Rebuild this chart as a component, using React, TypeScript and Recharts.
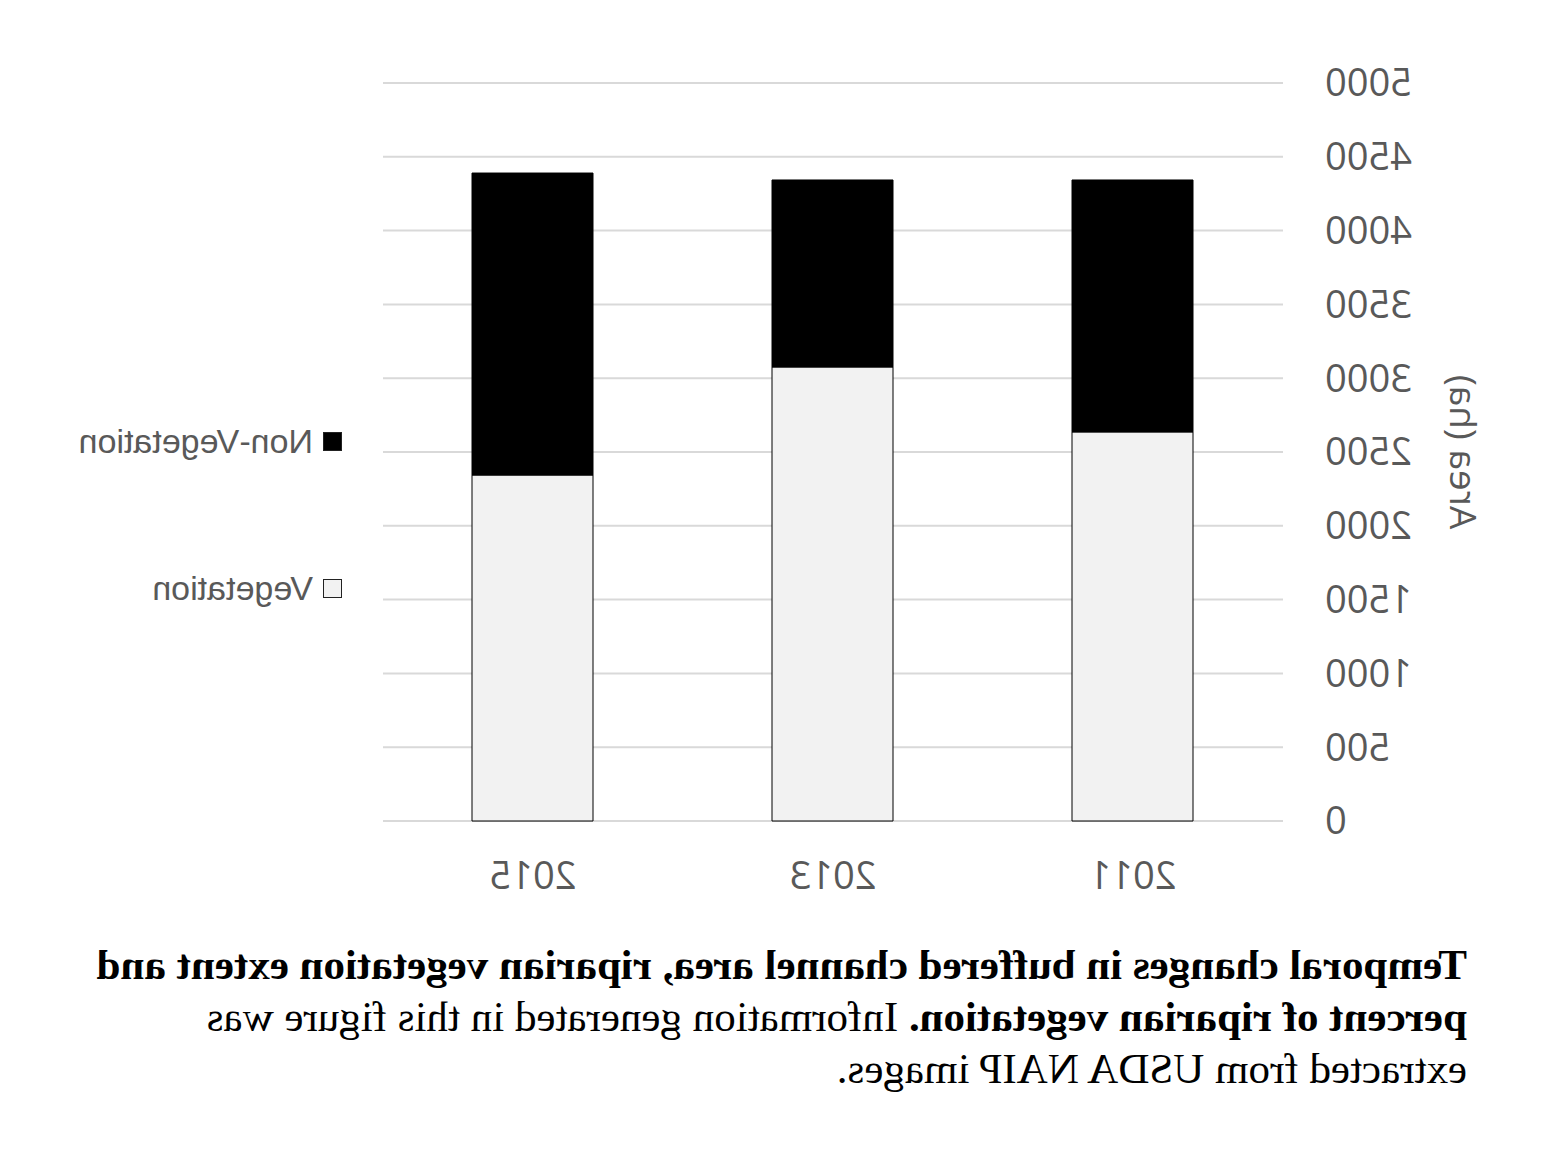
import { BarChart, Bar, XAxis, YAxis, CartesianGrid } from 'recharts';

// Years on the x axis (drawn left to right before the page is mirrored)
const years = ['2011', '2013', '2015'];
// Area in ha
const vegetation = [2636, 3076, 2344];
const nonVegetation = [1707, 1267, 2046];
const yTicks = [0, 500, 1000, 1500, 2000, 2500, 3000, 3500, 4000, 4500, 5000];

const legendItems = [
  { label: 'Non-Vegetation', fill: '#000000' },
  { label: 'Vegetation', fill: '#f2f2f2' },
];

const captionLines = [
  { bold: 'Temporal changes in buffered channel area, riparian vegetation extent and', rest: '' },
  { bold: 'percent of riparian vegetation.', rest: ' Information generated in this figure was' },
  { bold: '', rest: 'extracted from USDA NAIP images.' },
];

const axisColor = '#595959';
const axisFont = '"Open Sans", sans-serif';

const data = years.map((year, i) => ({
  year,
  vegetation: vegetation[i],
  nonVegetation: nonVegetation[i],
}));

function LegendBox() {
  return (
    <div
      style={{
        position: 'absolute',
        left: 1215,
        top: 421,
        fontFamily: '"Liberation Sans", Arial, sans-serif',
        fontSize: 34,
        color: axisColor,
      }}
    >
      {legendItems.map((item, i) => (
        <div key={item.label} style={{ display: 'flex', alignItems: 'center', height: 40, marginTop: i === 0 ? 0 : 107 }}>
          <span style={{ width: 17, height: 17, background: item.fill, border: '1px solid #222', marginRight: 10 }} />
          <span style={{ whiteSpace: 'nowrap' }}>{item.label}</span>
        </div>
      ))}
    </div>
  );
}

export default function App() {
  return (
    <div
      style={{
        position: 'absolute',
        left: 0,
        top: 0,
        width: 1557,
        height: 1168,
        background: '#fff',
        transform: 'scaleX(-1)',
      }}
    >
      <BarChart
        width={1557}
        height={940}
        data={data}
        margin={{ top: 83, right: 383, bottom: 39, left: 194 }}
      >
        <CartesianGrid vertical={false} stroke="#d9d9d9" strokeWidth={2} />
        <XAxis
          dataKey="year"
          axisLine={false}
          tickLine={false}
          tickSize={0}
          tickMargin={41}
          height={80}
          tick={{ fill: axisColor, fontSize: 38, fontFamily: axisFont }}
        />
        <YAxis
          width={80}
          domain={[0, 5000]}
          ticks={yTicks}
          axisLine={false}
          tickLine={false}
          tickSize={0}
          tickMargin={42}
          tick={{ fill: axisColor, fontSize: 38, fontFamily: axisFont }}
          label={{
            value: 'Area (ha)',
            angle: -90,
            position: 'insideLeft',
            offset: 0,
            dx: -100,
            style: { fill: axisColor, fontSize: 37, fontFamily: axisFont, textAnchor: 'middle' },
          }}
        />
        <Bar dataKey="vegetation" name="Vegetation" stackId="a" fill="#f2f2f2" stroke="#000" strokeWidth={1} barSize={121} isAnimationActive={false} />
        <Bar dataKey="nonVegetation" name="Non-Vegetation" stackId="a" fill="#000" stroke="#000" strokeWidth={1} barSize={121} isAnimationActive={false} />
      </BarChart>
      <LegendBox />
      <div
        style={{
          position: 'absolute',
          left: 90,
          top: 939,
          fontFamily: '"Liberation Serif", "Times New Roman", serif',
          fontSize: 43,
          lineHeight: '52px',
          color: '#000',
        }}
      >
        {captionLines.map((line, i) => (
          <div key={i} style={{ whiteSpace: 'nowrap' }}>
            {line.bold && <b>{line.bold}</b>}
            {line.rest}
          </div>
        ))}
      </div>
    </div>
  );
}
